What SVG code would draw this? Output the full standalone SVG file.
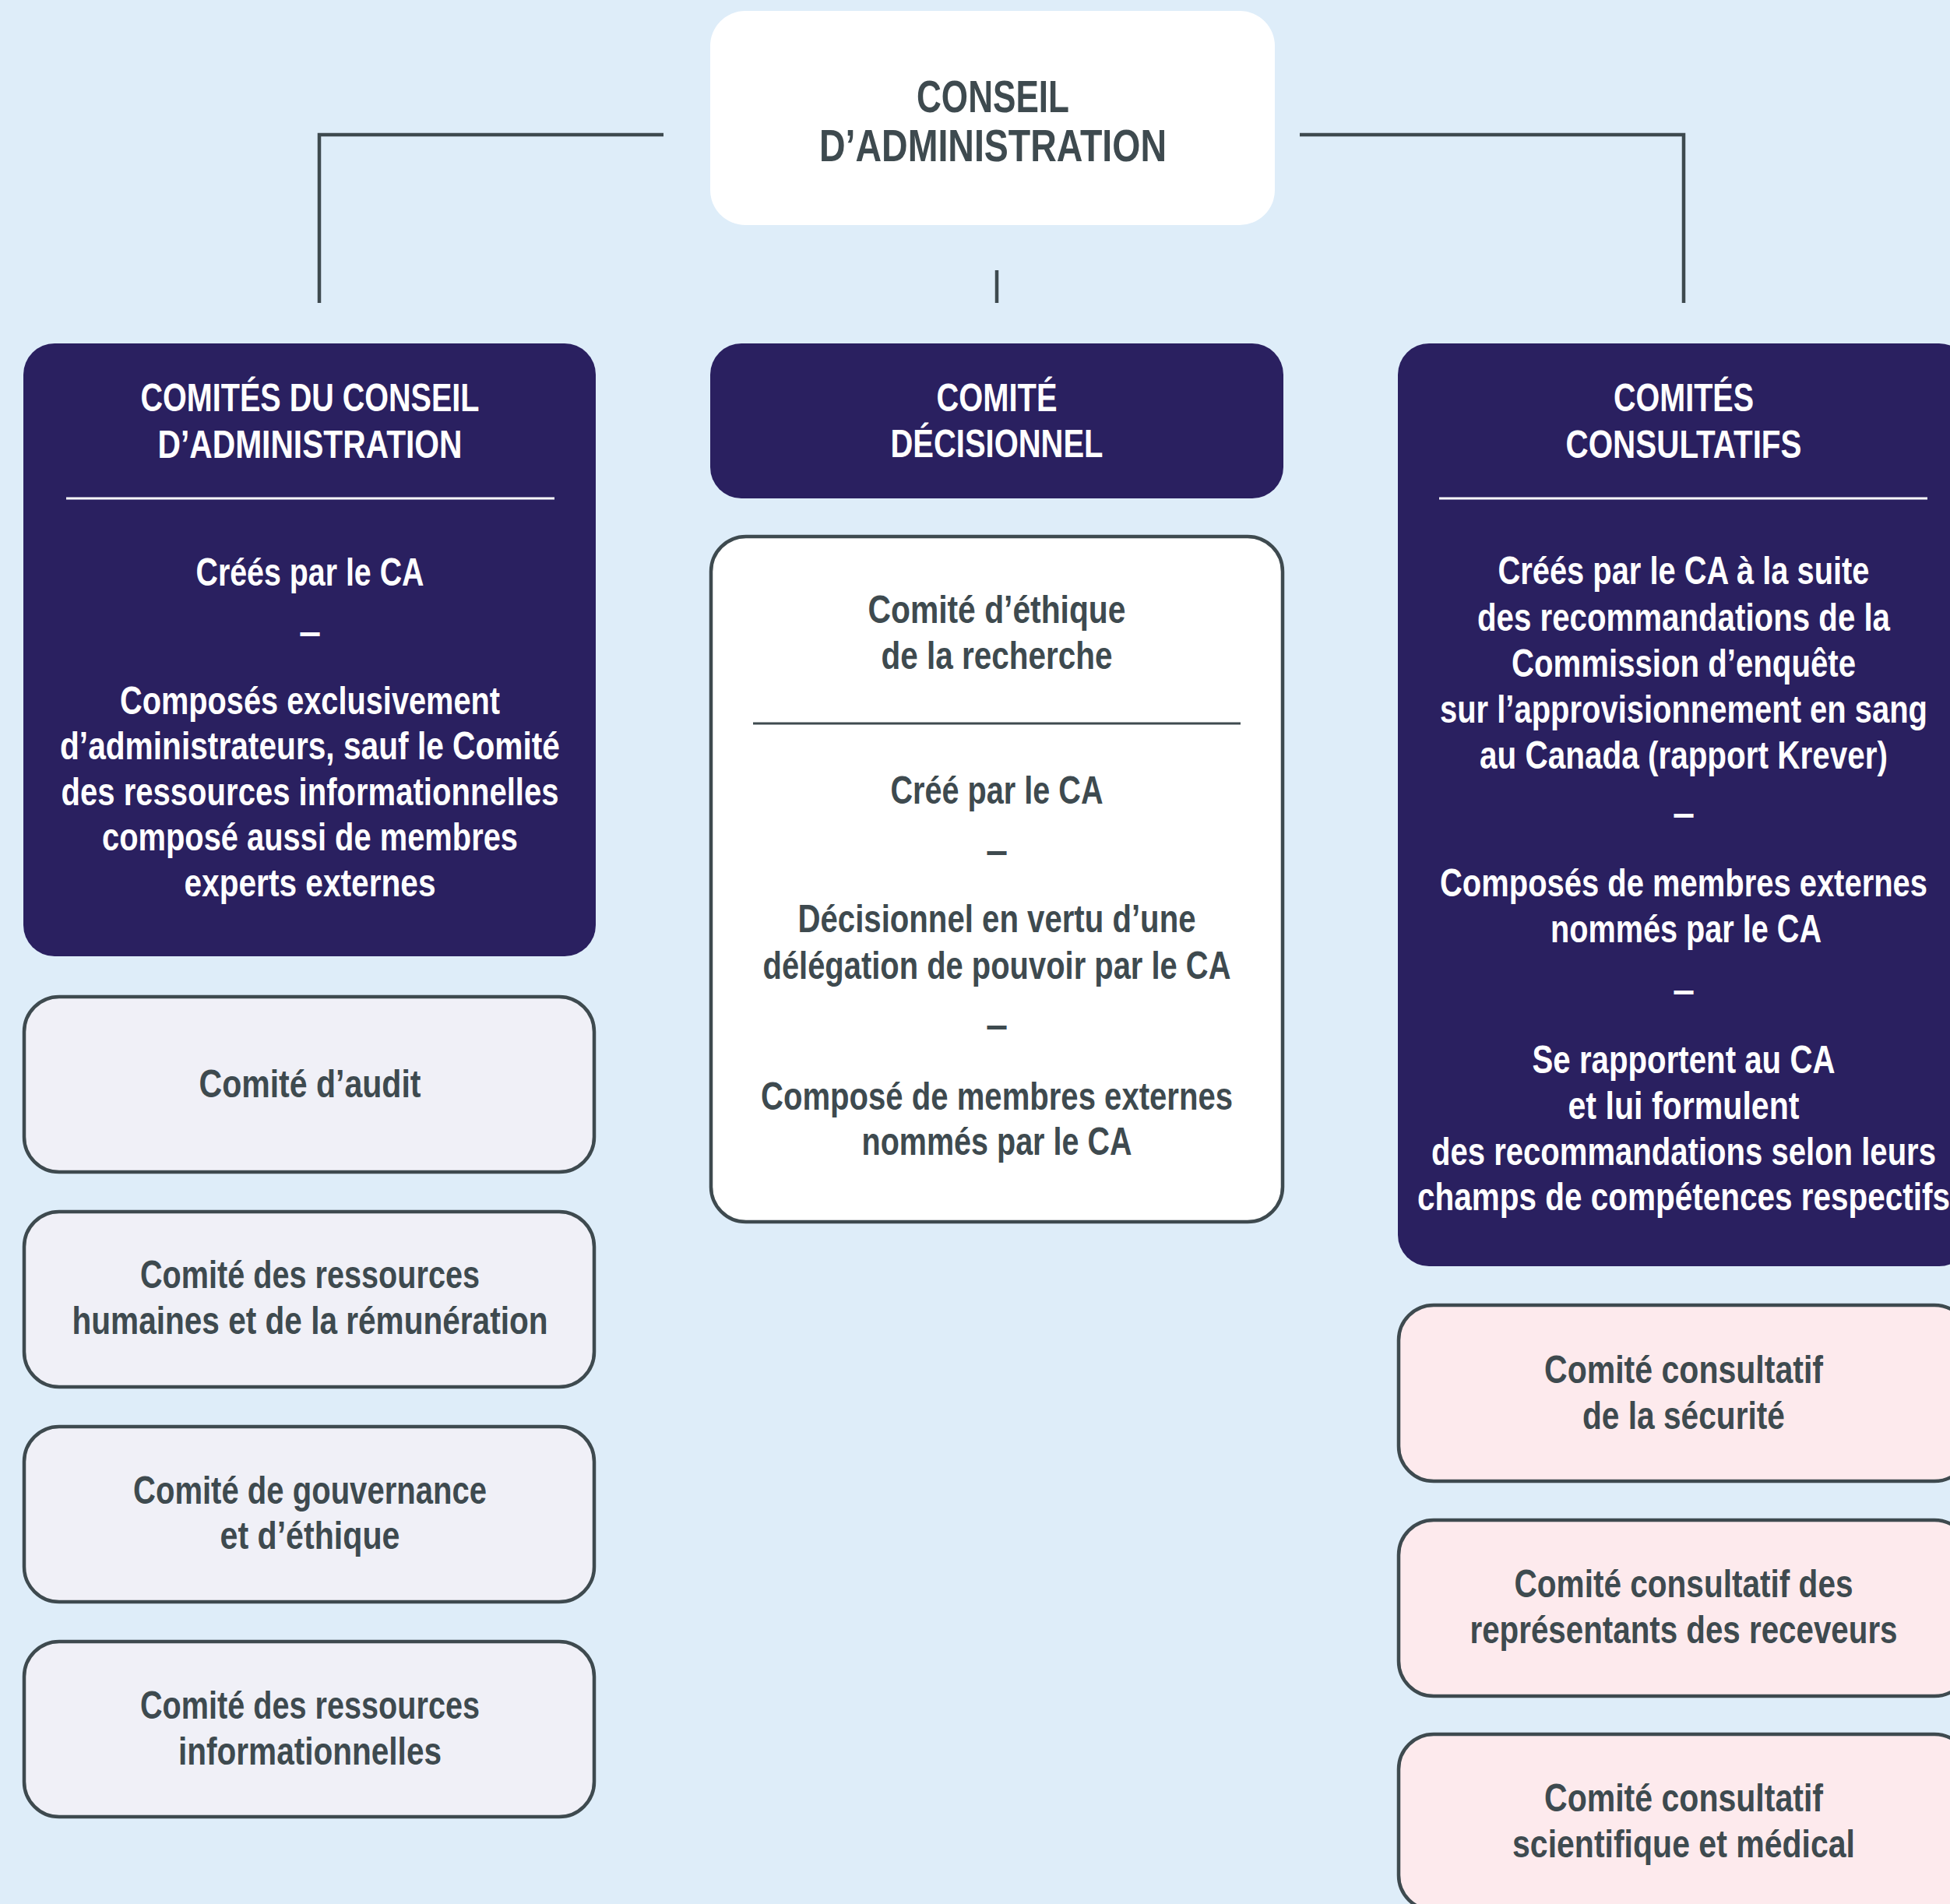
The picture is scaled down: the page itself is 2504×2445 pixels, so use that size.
<svg xmlns="http://www.w3.org/2000/svg" width="2504" height="2445" viewBox="0 0 2504 2445">
<defs>
<style>
text{font-family:"Liberation Sans",Arial,sans-serif;font-weight:700;text-anchor:middle;font-size:50px}
.w{fill:#ffffff}
.d{fill:#3e4a4f}
.big{font-size:58px}
.conn{stroke:#3e4a4f;stroke-width:4.5;fill:none}
.navy{fill:#2a2060}
.lite{fill:#f0f0f7;stroke:#3e4a4f;stroke-width:4.5}
.pink{fill:#fdeaed;stroke:#3e4a4f;stroke-width:4.5}
.white{fill:#ffffff;stroke:#3e4a4f;stroke-width:4.5}
</style>
</defs>
<rect x="0" y="0" width="2504" height="2445" fill="#deedf9"/>

<g id="connectors">
<polyline class="conn" points="852,173 410,173 410,389"/>
<polyline class="conn" points="1669,173 2162,173 2162,389"/>
<line class="conn" x1="1280" y1="347" x2="1280" y2="389"/>
</g>

<g id="conseil">
<rect x="912" y="14" width="725" height="275" rx="45" fill="#ffffff"/>
<text class="d big" x="1275" y="144" textLength="196" lengthAdjust="spacingAndGlyphs">CONSEIL</text>
<text class="d big" x="1275" y="207" textLength="446" lengthAdjust="spacingAndGlyphs">D’ADMINISTRATION</text>
</g>

<g id="comites-ca">
<rect class="navy" x="30" y="441" width="735" height="787" rx="40"/>
<text class="w" x="398" y="528" textLength="435" lengthAdjust="spacingAndGlyphs">COMITÉS DU CONSEIL</text>
<text class="w" x="398" y="588" textLength="391" lengthAdjust="spacingAndGlyphs">D’ADMINISTRATION</text>
<line x1="85" y1="640" x2="712" y2="640" stroke="#ffffff" stroke-width="3"/>
<text class="w" x="398" y="752" textLength="293" lengthAdjust="spacingAndGlyphs">Créés par le CA</text>
<text class="w" x="398" y="828" textLength="25" lengthAdjust="spacingAndGlyphs">—</text>
<text class="w" x="398" y="917" textLength="488" lengthAdjust="spacingAndGlyphs">Composés exclusivement</text>
<text class="w" x="398" y="975" textLength="642" lengthAdjust="spacingAndGlyphs">d’administrateurs, sauf le Comité</text>
<text class="w" x="398" y="1034" textLength="639" lengthAdjust="spacingAndGlyphs">des ressources informationnelles</text>
<text class="w" x="398" y="1092" textLength="534" lengthAdjust="spacingAndGlyphs">composé aussi de membres</text>
<text class="w" x="398" y="1151" textLength="323" lengthAdjust="spacingAndGlyphs">experts externes</text>
</g>

<g id="audit">
<rect class="lite" x="31" y="1280" width="732" height="225" rx="45"/>
<text class="d" x="398" y="1409" textLength="285" lengthAdjust="spacingAndGlyphs">Comité d’audit</text>
</g>
<g id="rh">
<rect class="lite" x="31" y="1556" width="732" height="225" rx="45"/>
<text class="d" x="398" y="1654" textLength="436" lengthAdjust="spacingAndGlyphs">Comité des ressources</text>
<text class="d" x="398" y="1713" textLength="611" lengthAdjust="spacingAndGlyphs">humaines et de la rémunération</text>
</g>
<g id="gouvernance">
<rect class="lite" x="31" y="1832" width="732" height="225" rx="45"/>
<text class="d" x="398" y="1931" textLength="454" lengthAdjust="spacingAndGlyphs">Comité de gouvernance</text>
<text class="d" x="398" y="1989" textLength="231" lengthAdjust="spacingAndGlyphs">et d’éthique</text>
</g>
<g id="ri">
<rect class="lite" x="31" y="2108" width="732" height="225" rx="45"/>
<text class="d" x="398" y="2207" textLength="436" lengthAdjust="spacingAndGlyphs">Comité des ressources</text>
<text class="d" x="398" y="2266" textLength="338" lengthAdjust="spacingAndGlyphs">informationnelles</text>
</g>

<g id="comite-decisionnel">
<rect class="navy" x="912" y="441" width="736" height="199" rx="40"/>
<text class="w" x="1280" y="528" textLength="155" lengthAdjust="spacingAndGlyphs">COMITÉ</text>
<text class="w" x="1280" y="587" textLength="273" lengthAdjust="spacingAndGlyphs">DÉCISIONNEL</text>
</g>

<g id="ethique-recherche">
<rect class="white" x="913" y="689" width="734" height="880" rx="45"/>
<text class="d" x="1280" y="800" textLength="331" lengthAdjust="spacingAndGlyphs">Comité d’éthique</text>
<text class="d" x="1280" y="859" textLength="297" lengthAdjust="spacingAndGlyphs">de la recherche</text>
<line x1="967" y1="929" x2="1593" y2="929" stroke="#3e4a4f" stroke-width="3"/>
<text class="d" x="1280" y="1032" textLength="273" lengthAdjust="spacingAndGlyphs">Créé par le CA</text>
<text class="d" x="1280" y="1109" textLength="25" lengthAdjust="spacingAndGlyphs">—</text>
<text class="d" x="1280" y="1197" textLength="511" lengthAdjust="spacingAndGlyphs">Décisionnel en vertu d’une</text>
<text class="d" x="1280" y="1257" textLength="601" lengthAdjust="spacingAndGlyphs">délégation de pouvoir par le CA</text>
<text class="d" x="1280" y="1333" textLength="25" lengthAdjust="spacingAndGlyphs">—</text>
<text class="d" x="1280" y="1425" textLength="606" lengthAdjust="spacingAndGlyphs">Composé de membres externes</text>
<text class="d" x="1280" y="1483" textLength="347" lengthAdjust="spacingAndGlyphs">nommés par le CA</text>
</g>

<g id="comites-consultatifs">
<rect class="navy" x="1795" y="441" width="735" height="1185" rx="40"/>
<text class="w" x="2162" y="528" textLength="180" lengthAdjust="spacingAndGlyphs">COMITÉS</text>
<text class="w" x="2162" y="588" textLength="303" lengthAdjust="spacingAndGlyphs">CONSULTATIFS</text>
<line x1="1848" y1="640" x2="2475" y2="640" stroke="#ffffff" stroke-width="3"/>
<text class="w" x="2162" y="750" textLength="477" lengthAdjust="spacingAndGlyphs">Créés par le CA à la suite</text>
<text class="w" x="2162" y="810" textLength="530" lengthAdjust="spacingAndGlyphs">des recommandations de la</text>
<text class="w" x="2162" y="869" textLength="442" lengthAdjust="spacingAndGlyphs">Commission d’enquête</text>
<text class="w" x="2162" y="928" textLength="626" lengthAdjust="spacingAndGlyphs">sur l’approvisionnement en sang</text>
<text class="w" x="2162" y="987" textLength="524" lengthAdjust="spacingAndGlyphs">au Canada (rapport Krever)</text>
<text class="w" x="2162" y="1061" textLength="25" lengthAdjust="spacingAndGlyphs">—</text>
<text class="w" x="2162" y="1151" textLength="626" lengthAdjust="spacingAndGlyphs">Composés de membres externes</text>
<text class="w" x="2165" y="1210" textLength="348" lengthAdjust="spacingAndGlyphs">nommés par le CA</text>
<text class="w" x="2162" y="1288" textLength="25" lengthAdjust="spacingAndGlyphs">—</text>
<text class="w" x="2162" y="1378" textLength="389" lengthAdjust="spacingAndGlyphs">Se rapportent au CA</text>
<text class="w" x="2162" y="1437" textLength="297" lengthAdjust="spacingAndGlyphs">et lui formulent</text>
<text class="w" x="2162" y="1496" textLength="648" lengthAdjust="spacingAndGlyphs">des recommandations selon leurs</text>
<text class="w" x="2162" y="1554" textLength="684" lengthAdjust="spacingAndGlyphs">champs de compétences respectifs</text>
</g>

<g id="securite">
<rect class="pink" x="1796" y="1676" width="733" height="226" rx="45"/>
<text class="d" x="2162" y="1776" textLength="358" lengthAdjust="spacingAndGlyphs">Comité consultatif</text>
<text class="d" x="2162" y="1835" textLength="260" lengthAdjust="spacingAndGlyphs">de la sécurité</text>
</g>
<g id="receveurs">
<rect class="pink" x="1796" y="1952" width="733" height="226" rx="45"/>
<text class="d" x="2162" y="2051" textLength="435" lengthAdjust="spacingAndGlyphs">Comité consultatif des</text>
<text class="d" x="2162" y="2110" textLength="549" lengthAdjust="spacingAndGlyphs">représentants des receveurs</text>
</g>
<g id="scientifique">
<rect class="pink" x="1796" y="2227" width="733" height="226" rx="45"/>
<text class="d" x="2162" y="2326" textLength="358" lengthAdjust="spacingAndGlyphs">Comité consultatif</text>
<text class="d" x="2162" y="2385" textLength="440" lengthAdjust="spacingAndGlyphs">scientifique et médical</text>
</g>
</svg>
